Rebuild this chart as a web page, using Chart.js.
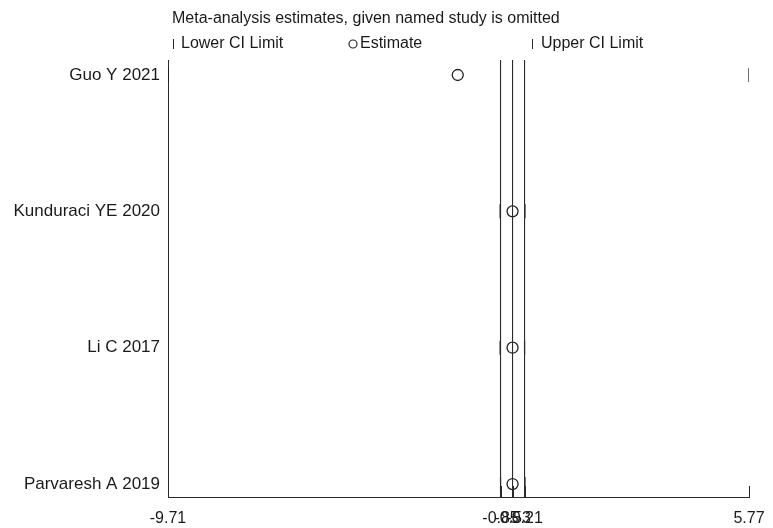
<!DOCTYPE html>
<html>
<head>
<meta charset="utf-8">
<script src="https://cdn.jsdelivr.net/npm/chart.js@4/dist/chart.umd.min.js"></script>
<style>
  html, body { margin: 0; padding: 0; background: #fff; }
  #wrap { width: 773px; height: 528px; }
</style>
</head>
<body>
<div id="wrap"><canvas id="c" width="773" height="528"></canvas></div>
<script>
// Influence analysis: pooled estimate when each named study is left out
const studies = ['Guo Y 2021', 'Kunduraci YE 2020', 'Li C 2017', 'Parvaresh A 2019'];
const estimate = [-1.99, -0.53, -0.53, -0.53];
const lowerCI = [-9.71, -0.86, -0.86, -0.85];
const upperCI = [5.77, -0.20, -0.21, -0.20];

// Full-sample pooled estimate and its confidence limits (vertical reference lines)
const pooled = [-0.85, -0.53, -0.21];

// Axis ticks shown on the estimate axis
const xTicks = [-9.71, -0.85, -0.53, -0.21, 5.77];
const xTickLabels = ['-9.71', '-0.85', '-0.53', '-0.21', '5.77'];

const title = 'Meta-analysis estimates, given named study is omitted';
const legendLabels = ['Lower CI Limit', 'Estimate', 'Upper CI Limit'];

const FONT = '"Liberation Sans", Arial, sans-serif';
const INK = '#1a1a1a';
const LINE = '#2a2a2a';

const yMin = 0.89, yMax = 4.095;

const rows = studies.map((s, i) => i + 1);

const refLineSets = pooled.map(v => ({
  type: 'line',
  data: [{ x: v, y: yMin }, { x: v, y: yMax }],
  borderColor: LINE,
  borderWidth: 1.1,
  pointRadius: 0,
  fill: false
}));

const headerPlugin = {
  id: 'header',
  afterDraw(chart) {
    const ctx = chart.ctx;
    ctx.save();
    ctx.fillStyle = INK;
    ctx.font = '16px ' + FONT;
    ctx.textBaseline = 'middle';
    ctx.textAlign = 'left';
    ctx.fillText(title, 172, 19);
    // legend row
    const ly = 44;
    ctx.strokeStyle = LINE;
    ctx.lineWidth = 1;
    ctx.beginPath();
    ctx.moveTo(173.5, ly - 5); ctx.lineTo(173.5, ly + 5);
    ctx.moveTo(532.5, ly - 5); ctx.lineTo(532.5, ly + 5);
    ctx.stroke();
    ctx.beginPath();
    ctx.arc(353, ly, 4, 0, Math.PI * 2);
    ctx.lineWidth = 1.2;
    ctx.stroke();
    ctx.fillText(legendLabels[0], 181, ly);
    ctx.fillText(legendLabels[1], 360, ly);
    ctx.fillText(legendLabels[2], 541, ly);
    // inward tick marks on the estimate axis
    const xs = chart.scales.x;
    const bottom = chart.chartArea.bottom;
    ctx.lineWidth = 1;
    ctx.beginPath();
    xTicks.forEach(v => {
      const px = Math.round(xs.getPixelForValue(v)) + 0.5;
      ctx.moveTo(px, bottom);
      ctx.lineTo(px, bottom - 11);
    });
    ctx.stroke();
    ctx.restore();
  }
};

new Chart(document.getElementById('c'), {
  type: 'scatter',
  data: {
    datasets: [
      ...refLineSets,
      {
        label: legendLabels[0],
        data: rows.map((r, i) => ({ x: lowerCI[i], y: r })),
        pointStyle: 'line',
        rotation: 90,
        pointRadius: 7,
        borderColor: '#111',
        borderWidth: 1.2
      },
      {
        label: legendLabels[2],
        data: rows.map((r, i) => ({ x: upperCI[i], y: r })),
        pointStyle: 'line',
        rotation: 90,
        pointRadius: 7,
        borderColor: '#111',
        borderWidth: 1.2
      },
      {
        label: legendLabels[1],
        data: rows.map((r, i) => ({ x: estimate[i], y: r })),
        pointStyle: 'circle',
        pointRadius: 5.5,
        backgroundColor: 'rgba(0,0,0,0)',
        borderColor: '#222',
        borderWidth: 1.3
      }
    ]
  },
  options: {
    responsive: false,
    animation: false,
    events: [],
    layout: { padding: { top: 60, right: 24, left: 0, bottom: 0 } },
    plugins: {
      legend: { display: false },
      title: { display: false },
      tooltip: { enabled: false }
    },
    scales: {
      x: {
        type: 'linear',
        min: xTicks[0],
        max: xTicks[xTicks.length - 1],
        afterBuildTicks(scale) { scale.ticks = xTicks.map(v => ({ value: v })); },
        afterFit(scale) { scale.height = 31; },
        grid: { display: false },
        border: { display: true, color: LINE, width: 1 },
        ticks: {
          autoSkip: false,
          maxRotation: 0,
          padding: 4,
          color: INK,
          font: { family: FONT, size: 16 },
          callback(v) {
            const i = xTicks.indexOf(v);
            return i >= 0 ? xTickLabels[i] : '';
          }
        }
      },
      y: {
        type: 'linear',
        reverse: true,
        min: yMin,
        max: yMax,
        afterBuildTicks(scale) { scale.ticks = rows.map(v => ({ value: v })); },
        afterFit(scale) { scale.width = 168; },
        grid: { display: false },
        border: { display: true, color: LINE, width: 1 },
        ticks: {
          autoSkip: false,
          padding: 0,
          color: INK,
          font: { family: FONT, size: 17 },
          callback(v) { return studies[v - 1] || ''; }
        }
      }
    }
  },
  plugins: [headerPlugin]
});
</script>
</body>
</html>
